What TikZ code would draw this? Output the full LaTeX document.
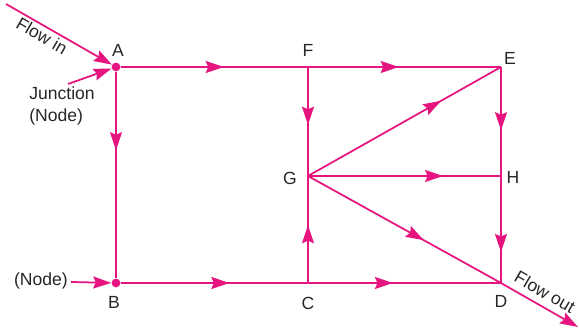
\documentclass[tikz,border=0pt]{standalone}
\usepackage{fontspec}
\setmainfont{Liberation Sans}
\usetikzlibrary{arrows.meta,decorations.markings}
\definecolor{flowPink}{HTML}{E6147E}

\tikzset{
  midarr/.style={postaction={decorate},
    decoration={markings, mark=at position #1 with {\arrow{Stealth[length=3.6mm,width=2.4mm,inset=0.5mm]}}}}
}

\begin{document}
\begin{tikzpicture}[x=0.02cm, y=-0.02cm,
    wire/.style={draw=flowPink, line width=1pt},
    dot/.style={circle, fill=flowPink, inner sep=0pt, minimum size=5pt},
    lbl/.style={font=\fontsize{10}{12}\selectfont, text=black!85, inner sep=0pt},
    tip/.style={-{Stealth[length=3.6mm,width=2.4mm,inset=0.5mm]}}
]
\useasboundingbox (0,0) rectangle (579,333);
% Junctions and corners
\node[dot] (A) at (116,67) {};
\node[dot] (B) at (116,283) {};
\coordinate (F) at (308,67);
\coordinate (E) at (501,67);
\coordinate (G) at (308,176);
\coordinate (H) at (501,176);
\coordinate (C) at (308,283);
\coordinate (D) at (501,283);
% Free ends
\coordinate (inS) at (6,4);
\coordinate (jS) at (68,84);
\coordinate (nS) at (71,282);
\coordinate (outE) at (578,327);
% Branches
\draw[wire, midarr=0.55] (A) -- (F);
\draw[wire, midarr=0.47] (F) -- (E);
\draw[wire, midarr=0.38] (A) -- (B);
\draw[wire, midarr=0.53] (F) -- (G);
\draw[wire, midarr=0.69] (G) -- (E);
\draw[wire, midarr=0.58] (E) -- (H);
\draw[wire, midarr=0.70] (G) -- (H);
\draw[wire, midarr=0.71] (H) -- (D);
\draw[wire, midarr=0.60] (G) -- (D);
\draw[wire, midarr=0.54] (C) -- (G);
\draw[wire, midarr=0.58] (B) -- (C);
\draw[wire, midarr=0.44] (C) -- (D);
% Inflow and outflow
\draw[wire, tip] (inS) -- (A);
\draw[wire, tip] (jS) -- (A);
\draw[wire, tip] (nS) -- (B);
\draw[wire, tip] (D) -- (outE);
% Labels
\node[lbl] (lA) at (118,50) {A};
\node[lbl] (lF) at (308,50) {F};
\node[lbl] (lE) at (510,58) {E};
\node[lbl] (lG) at (290,178) {G};
\node[lbl] (lH) at (513,177) {H};
\node[lbl] (lB) at (114,302) {B};
\node[lbl] (lC) at (308,303) {C};
\node[lbl] (lD) at (501,301) {D};
\node[lbl, rotate=-30] (lin) at (42,36) {Flow in};
\node[lbl, rotate=-30] (lout) at (545,292) {Flow out};
\node[lbl, align=left] (ljunc) at (62,106) {Junction\\(Node)};
\node[lbl] (lnode) at (41,281) {(Node)};
\end{tikzpicture}
\end{document}
